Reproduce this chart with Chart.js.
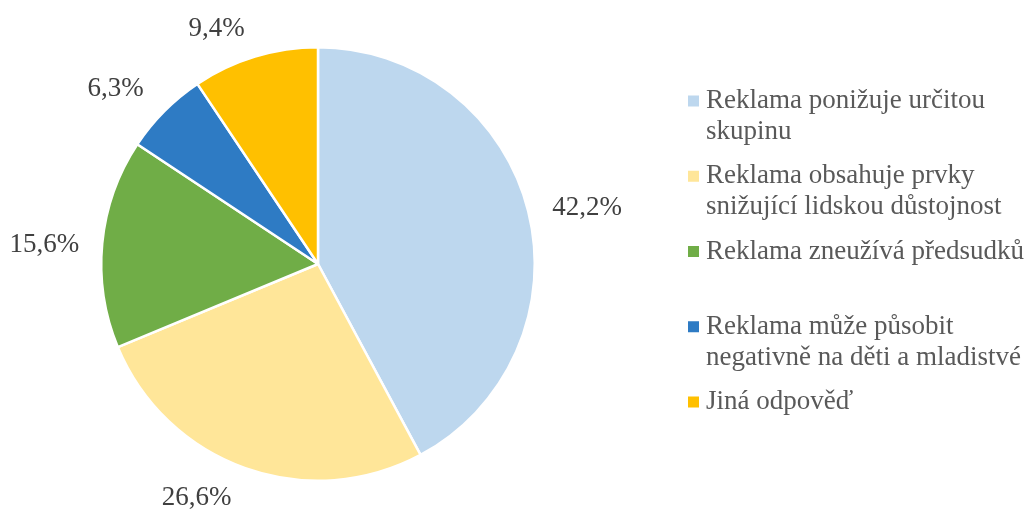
<!DOCTYPE html>
<html>
<head>
<meta charset="utf-8">
<script src="https://cdn.jsdelivr.net/npm/chart.js@4/dist/chart.umd.min.js"></script>
<style>
  html, body { margin: 0; padding: 0; background: #fff; }
  #wrap { width: 1032px; height: 514px; }
</style>
</head>
<body>
<div id="wrap"><canvas id="pieChart" width="1032" height="514"></canvas></div>
<script>
const categories = [
    ["Reklama ponižuje určitou", "skupinu"],
    ["Reklama obsahuje prvky", "snižující lidskou důstojnost"],
    ["Reklama zneužívá předsudků"],
    ["Reklama může působit", "negativně na děti a mladistvé"],
    ["Jiná odpověď"]
];
const shares = [42.2, 26.6, 15.6, 6.3, 9.4];
const shareLabels = ["42,2%", "26,6%", "15,6%", "6,3%", "9,4%"];
const sliceColors = ['#BDD7EE', '#FFE699', '#70AD47', '#2E7BC4', '#FFC000'];

// angle tweaks (degrees) for the outside labels, best-fit style
const labelTurn = [2.3, 7.8, -1.4, -4, -6.4];
const labelGap = [22, 22, 22, 23, 19];

const textColor = '#404040';
const legendColor = '#595959';

const outsideLabels = {
    id: 'outsideLabels',
    afterDatasetsDraw(chart) {
        const ctx = chart.ctx;
        const meta = chart.getDatasetMeta(0);
        ctx.save();
        ctx.font = '27px "Liberation Serif", "Times New Roman", serif';
        ctx.fillStyle = textColor;
        ctx.textAlign = 'center';
        ctx.textBaseline = 'middle';
        meta.data.forEach((arc, i) => {
            const p = arc.getProps(['x', 'y', 'startAngle', 'endAngle', 'outerRadius'], true);
            const mid = (p.startAngle + p.endAngle) / 2 + labelTurn[i] * Math.PI / 180;
            const cx = Math.cos(mid), cy = Math.sin(mid);
            const w = ctx.measureText(shareLabels[i]).width;
            const h = 20;
            const extent = Math.abs(cx) * w / 2 + Math.abs(cy) * h / 2;
            const d = p.outerRadius + extent + labelGap[i];
            ctx.fillText(shareLabels[i], p.x + cx * d, p.y + cy * d);
        });
        ctx.restore();
    }
};

const sideLegend = {
    id: 'sideLegend',
    afterDraw(chart) {
        const ctx = chart.ctx;
        const x0 = 688, textX = 706, firstY = 101, slot = 75.25, lineGap = 31, box = 11;
        ctx.save();
        ctx.font = '27px "Liberation Serif", "Times New Roman", serif';
        ctx.textBaseline = 'middle';
        ctx.textAlign = 'left';
        categories.forEach((lines, i) => {
            const y = firstY + slot * i;
            ctx.fillStyle = sliceColors[i];
            ctx.fillRect(x0, y - box / 2, box, box);
            ctx.fillStyle = legendColor;
            lines.forEach((line, j) => ctx.fillText(line, textX, y + j * lineGap));
        });
        ctx.restore();
    }
};

new Chart(document.getElementById('pieChart').getContext('2d'), {
    type: 'pie',
    data: {
        labels: categories.map(c => c.join(' ')),
        datasets: [{
            data: shares,
            backgroundColor: sliceColors,
            borderColor: '#ffffff',
            borderWidth: 2.5
        }]
    },
    options: {
        responsive: false,
        animation: false,
        layout: { padding: { left: 100, right: 496, top: 46, bottom: 32 } },
        plugins: {
            legend: { display: false },
            tooltip: { enabled: false }
        }
    },
    plugins: [outsideLabels, sideLegend]
});
</script>
</body>
</html>
